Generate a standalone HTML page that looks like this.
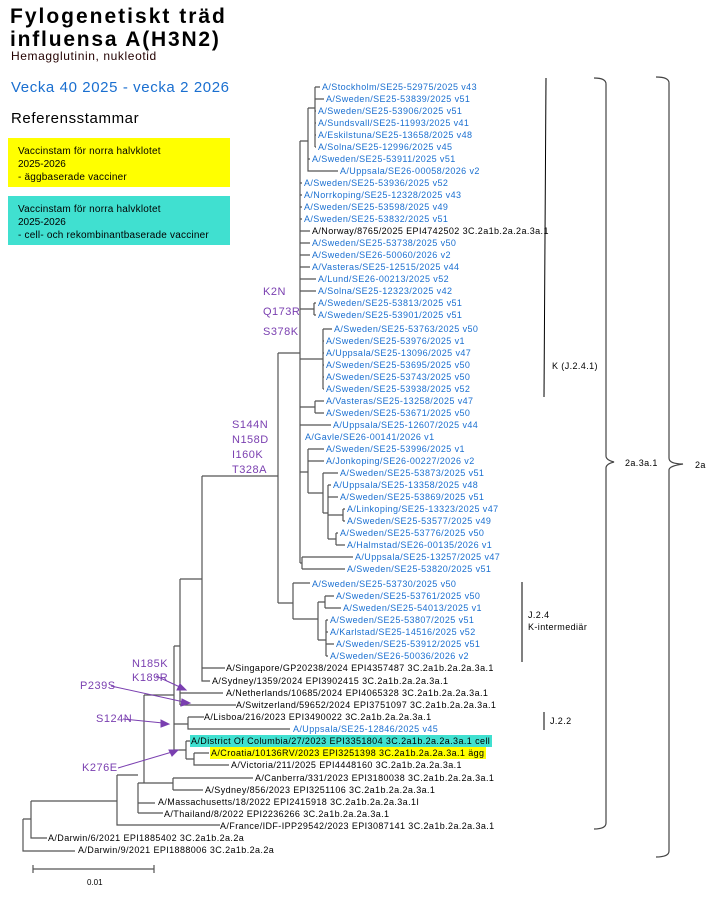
<!DOCTYPE html>
<html><head><meta charset="utf-8"><style>
html,body{margin:0;padding:0;background:#fff;}
svg{display:block;font-family:"Liberation Sans",sans-serif;}
.l{font-size:9px;fill:#1a6fd0;letter-spacing:0.4px;}
.k{font-size:9px;fill:#000;letter-spacing:0.4px;}
.m{font-size:11px;fill:#7a3fb0;letter-spacing:0.5px;}
.b path,.b line{stroke:#555;stroke-width:1.2;fill:none;}
</style></head><body>
<svg width="720" height="899" viewBox="0 0 720 899">
<text x="10" y="23" font-size="21" font-weight="bold" letter-spacing="2">Fylogenetiskt träd</text>
<text x="10" y="46" font-size="21" font-weight="bold" letter-spacing="1.8">influensa A(H3N2)</text>
<text x="11" y="60" font-size="12" fill="#200" letter-spacing="0.6">Hemagglutinin,  nukleotid</text>
<text x="11" y="92" font-size="15" fill="#1a6fd0" letter-spacing="0.6">Vecka 40 2025 - vecka 2 2026</text>
<text x="11" y="123" font-size="15" letter-spacing="0.6">Referensstammar</text>
<rect x="8" y="138" width="222" height="49" fill="#ffff00"/>
<text x="18" y="154" font-size="10" letter-spacing="0.2">Vaccinstam  för norra halvklotet</text>
<text x="18" y="167" font-size="10">2025-2026</text>
<text x="18" y="180" font-size="10" letter-spacing="0.2">- äggbaserade vacciner</text>
<rect x="8" y="196" width="222" height="49" fill="#40e0d0"/>
<text x="18" y="212" font-size="10" letter-spacing="0.2">Vaccinstam  för norra halvklotet</text>
<text x="18" y="225" font-size="10">2025-2026</text>
<text x="18" y="238" font-size="10" letter-spacing="0.2">- cell- och rekombinantbaserade vacciner</text>

<g class="b">
<path d="M23 819V851H75M23 819H31M31 801V838H47M31 801H117M117 775V825H220M117 775H138M138 783V813M138 803H155M138 813H163"/>
<path d="M138 783H144M144 695V783M144 783H173M173 778V790M173 778H253M173 790H203"/>
<path d="M144 695H174M174 646V750M174 724H188M188 717V729H290M188 717H204M174 750H186M186 741V759M186 741H190M186 759H194M194 753V765H229M194 753H209"/>
<path d="M174 646H180M180 579V705M180 693H223M180 705H236M180 579H202M202 476V681H210M202 668H225"/>
<path d="M202 476H278M278 353V603M278 603H293M293 583V619M293 583H310M293 619H318M318 602V640M318 602H325M325 596V608M325 596H334M325 608H341M318 640H326M326 620V656M326 620H328M326 632H328M326 644H334M326 656H328"/>
<path d="M278 353H300M300 141V563"/>
<path d="M300 141H308M308 108V171H338M308 108H315M315 87V147M315 87H320M315 99H324M315 111H316M315 123H316M315 135H316M315 147H316M308 159H310"/>
<path d="M300 183H302M300 195H302M300 207H302M300 219H302M300 231H310M300 243H310M300 255H310M300 267H310M300 279H316M300 291H316"/>
<path d="M300 309H314M314 303V315M314 303H316M314 315H316"/>
<path d="M300 359H323M323 329V389M323 329H332M323 341H324M323 353H324M323 365H324M323 377H324M323 389H324"/>
<path d="M300 407H315M315 401V413M315 401H324M315 413H324M300 425H331"/>
<path d="M300 472H308M308 449V493M308 449H324M308 461H324M308 493H323M323 473V513M323 473H338M323 513H328M328 485V539M328 485H331M328 497H338M328 515H343M343 509V521M343 509H345M343 521H345M328 539H336M336 533V545M336 533H338M336 545H345"/>
<path d="M300 563H302M302 557V569M302 557H353M302 569H345"/>
<path d="M33 869H154M33 865V873M154 865V873"/>
</g>
<text x="87" y="885" font-size="8">0.01</text>

<g class="l">
<text x="322" y="90">A/Stockholm/SE25-52975/2025 v43</text>
<text x="326" y="102">A/Sweden/SE25-53839/2025 v51</text>
<text x="318" y="114">A/Sweden/SE25-53906/2025 v51</text>
<text x="318" y="126">A/Sundsvall/SE25-11993/2025 v41</text>
<text x="318" y="138">A/Eskilstuna/SE25-13658/2025 v48</text>
<text x="318" y="150">A/Solna/SE25-12996/2025 v45</text>
<text x="312" y="162">A/Sweden/SE25-53911/2025 v51</text>
<text x="340" y="174">A/Uppsala/SE26-00058/2026 v2</text>
<text x="304" y="186">A/Sweden/SE25-53936/2025 v52</text>
<text x="304" y="198">A/Norrkoping/SE25-12328/2025 v43</text>
<text x="304" y="210">A/Sweden/SE25-53598/2025 v49</text>
<text x="304" y="222">A/Sweden/SE25-53832/2025 v51</text>
<text x="312" y="246">A/Sweden/SE25-53738/2025 v50</text>
<text x="312" y="258">A/Sweden/SE26-50060/2026 v2</text>
<text x="312" y="270">A/Vasteras/SE25-12515/2025 v44</text>
<text x="318" y="282">A/Lund/SE26-00213/2025 v52</text>
<text x="318" y="294">A/Solna/SE25-12323/2025 v42</text>
<text x="318" y="306">A/Sweden/SE25-53813/2025 v51</text>
<text x="318" y="318">A/Sweden/SE25-53901/2025 v51</text>
<text x="334" y="332">A/Sweden/SE25-53763/2025 v50</text>
<text x="326" y="344">A/Sweden/SE25-53976/2025 v1</text>
<text x="326" y="356">A/Uppsala/SE25-13096/2025 v47</text>
<text x="326" y="368">A/Sweden/SE25-53695/2025 v50</text>
<text x="326" y="380">A/Sweden/SE25-53743/2025 v50</text>
<text x="326" y="392">A/Sweden/SE25-53938/2025 v52</text>
<text x="326" y="404">A/Vasteras/SE25-13258/2025 v47</text>
<text x="326" y="416">A/Sweden/SE25-53671/2025 v50</text>
<text x="333" y="428">A/Uppsala/SE25-12607/2025 v44</text>
<text x="305" y="440">A/Gavle/SE26-00141/2026 v1</text>
<text x="326" y="452">A/Sweden/SE25-53996/2025 v1</text>
<text x="326" y="464">A/Jonkoping/SE26-00227/2026 v2</text>
<text x="340" y="476">A/Sweden/SE25-53873/2025 v51</text>
<text x="333" y="488">A/Uppsala/SE25-13358/2025 v48</text>
<text x="340" y="500">A/Sweden/SE25-53869/2025 v51</text>
<text x="347" y="512">A/Linkoping/SE25-13323/2025 v47</text>
<text x="347" y="524">A/Sweden/SE25-53577/2025 v49</text>
<text x="340" y="536">A/Sweden/SE25-53776/2025 v50</text>
<text x="347" y="548">A/Halmstad/SE26-00135/2026 v1</text>
<text x="355" y="560">A/Uppsala/SE25-13257/2025 v47</text>
<text x="347" y="572">A/Sweden/SE25-53820/2025 v51</text>
<text x="312" y="587">A/Sweden/SE25-53730/2025 v50</text>
<text x="336" y="599">A/Sweden/SE25-53761/2025 v50</text>
<text x="343" y="611">A/Sweden/SE25-54013/2025 v1</text>
<text x="330" y="623">A/Sweden/SE25-53807/2025 v51</text>
<text x="330" y="635">A/Karlstad/SE25-14516/2025 v52</text>
<text x="336" y="647">A/Sweden/SE25-53912/2025 v51</text>
<text x="330" y="659">A/Sweden/SE26-50036/2026 v2</text>
<text x="293" y="732">A/Uppsala/SE25-12846/2025 v45</text>
</g>
<rect x="190" y="735" width="302" height="12" fill="#40e0d0"/>
<rect x="210" y="747" width="276" height="12" fill="#ffff00"/>
<g class="k">
<text x="312" y="234">A/Norway/8765/2025 EPI4742502 3C.2a1b.2a.2a.3a.1</text>
<text x="226" y="671">A/Singapore/GP20238/2024 EPI4357487 3C.2a1b.2a.2a.3a.1</text>
<text x="212" y="684">A/Sydney/1359/2024 EPI3902415 3C.2a1b.2a.2a.3a.1</text>
<text x="226" y="696">A/Netherlands/10685/2024 EPI4065328 3C.2a1b.2a.2a.3a.1</text>
<text x="236" y="708">A/Switzerland/59652/2024 EPI3751097 3C.2a1b.2a.2a.3a.1</text>
<text x="204" y="720">A/Lisboa/216/2023 EPI3490022 3C.2a1b.2a.2a.3a.1</text>
<text x="191" y="744">A/District Of Columbia/27/2023 EPI3351804 3C.2a1b.2a.2a.3a.1 cell</text>
<text x="211" y="756">A/Croatia/10136RV/2023 EPI3251398 3C.2a1b.2a.2a.3a.1 ägg</text>
<text x="231" y="768">A/Victoria/211/2025 EPI4448160 3C.2a1b.2a.2a.3a.1</text>
<text x="255" y="781">A/Canberra/331/2023 EPI3180038 3C.2a1b.2a.2a.3a.1</text>
<text x="205" y="793">A/Sydney/856/2023 EPI3251106 3C.2a1b.2a.2a.3a.1</text>
<text x="158" y="805">A/Massachusetts/18/2022 EPI2415918 3C.2a1b.2a.2a.3a.1I</text>
<text x="164" y="817">A/Thailand/8/2022 EPI2236266 3C.2a1b.2a.2a.3a.1</text>
<text x="220" y="829">A/France/IDF-IPP29542/2023 EPI3087141 3C.2a1b.2a.2a.3a.1</text>
<text x="48" y="841">A/Darwin/6/2021 EPI1885402 3C.2a1b.2a.2a</text>
<text x="78" y="853">A/Darwin/9/2021 EPI1888006 3C.2a1b.2a.2a</text>
</g>

<g class="m">
<text x="263" y="295">K2N</text>
<text x="263" y="315">Q173R</text>
<text x="263" y="335">S378K</text>
<text x="232" y="428">S144N</text>
<text x="232" y="443">N158D</text>
<text x="232" y="458">I160K</text>
<text x="232" y="473">T328A</text>
<text x="132" y="667">N185K</text>
<text x="132" y="681">K189R</text>
<text x="80" y="689">P239S</text>
<text x="96" y="722">S124N</text>
<text x="82" y="771">K276E</text>
</g>
<g stroke="#7a3fb0" fill="#7a3fb0" stroke-width="1">
<line x1="156" y1="676" x2="182" y2="688"/><polygon points="186,690 177,690 180,684"/>
<line x1="111" y1="686" x2="184" y2="702"/><polygon points="190,703 181,706 182,699"/>
<line x1="123" y1="719" x2="163" y2="723"/><polygon points="169,724 161,727 161,720"/>
<line x1="118" y1="768" x2="172" y2="752"/><polygon points="178,750 172,756 169,750"/>
</g>

<g stroke="#000" stroke-width="1" fill="none">
<line x1="546" y1="78" x2="544" y2="397"/>
<line x1="522" y1="582" x2="522" y2="662"/>
<line x1="544" y1="712" x2="544" y2="730"/>
</g>
<text x="552" y="369" font-size="9" letter-spacing="0.4">K (J.2.4.1)</text>
<text x="528" y="618" font-size="9" letter-spacing="0.4">J.2.4</text>
<text x="528" y="630" font-size="9" letter-spacing="0.4">K-intermediär</text>
<text x="550" y="724" font-size="9" letter-spacing="0.4">J.2.2</text>
<g stroke="#444" stroke-width="1.2" fill="none">
<path d="M594 78Q606 78 606 84V456Q606 460 614 462Q606 464 606 468V823Q606 829 594 829"/>
<path d="M656 77Q669 77 669 83V458Q669 464 683 464Q669 466 669 470V851Q669 857 656 857"/>
</g>
<text x="625" y="466" font-size="9" letter-spacing="0.4">2a.3a.1</text>
<text x="695" y="468" font-size="9" letter-spacing="0.4">2a</text>
</svg>
</body></html>
